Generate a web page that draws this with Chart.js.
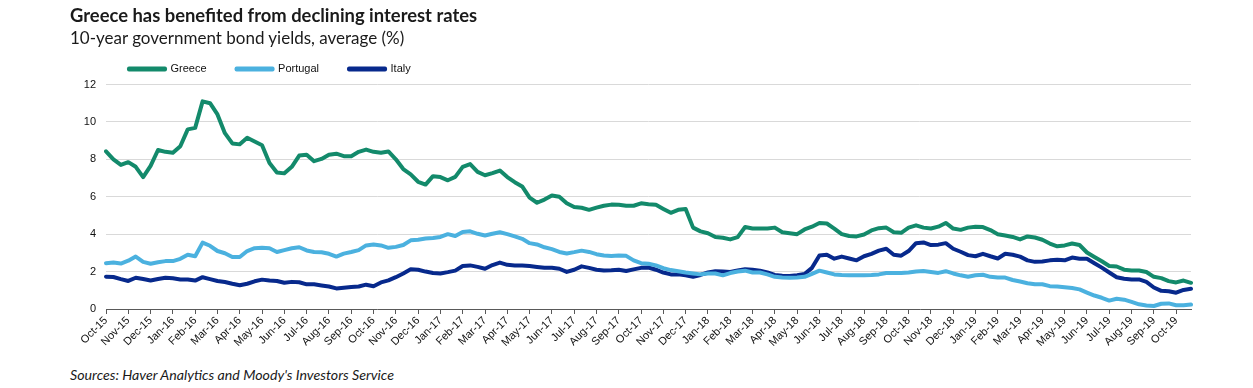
<!DOCTYPE html>
<html lang="en">
<head>
<meta charset="UTF-8">
<title>Greece has benefited from declining interest rates</title>
<style>
  body { margin: 0; background: #fff; }
  .wrap { position: relative; width: 1253px; height: 388px; overflow: hidden; }
  canvas { position: absolute; left: 0; top: 0; }
  .title { position: absolute; left: 70px; top: 4px; font: 700 18.4px Lato, sans-serif; color: #1a1a1a; white-space: nowrap; }
  .subtitle { position: absolute; left: 70px; top: 27px; font: 17px Lato, sans-serif; color: #1a1a1a; white-space: nowrap; }
  .source { position: absolute; left: 70px; top: 366px; font: italic 14.2px Lato, sans-serif; color: #1a1a1a; white-space: nowrap; }
</style>
</head>
<body>
<div class="wrap">
  <canvas id="yields" width="1253" height="359"></canvas>
  <div class="title">Greece has benefited from declining interest rates</div>
  <div class="subtitle">10-year government bond yields, average (%)</div>
  <div class="source">Sources: Haver Analytics and Moody's Investors Service</div>
</div>
<script src="https://cdn.jsdelivr.net/npm/chart.js"></script>
<script>
  const months = [
    'Oct-15', 'Nov-15', 'Dec-15', 'Jan-16', 'Feb-16', 'Mar-16', 'Apr-16', 'May-16', 'Jun-16', 'Jul-16',
    'Aug-16', 'Sep-16', 'Oct-16', 'Nov-16', 'Dec-16', 'Jan-17', 'Feb-17', 'Mar-17', 'Apr-17', 'May-17',
    'Jun-17', 'Jul-17', 'Aug-17', 'Sep-17', 'Oct-17', 'Nov-17', 'Dec-17', 'Jan-18', 'Feb-18', 'Mar-18',
    'Apr-18', 'May-18', 'Jun-18', 'Jul-18', 'Aug-18', 'Sep-18', 'Oct-18', 'Nov-18', 'Dec-18', 'Jan-19',
    'Feb-19', 'Mar-19', 'Apr-19', 'May-19', 'Jun-19', 'Jul-19', 'Aug-19', 'Sep-19', 'Oct-19'
  ];
  // three readings per month
  const perMonth = 3;

  const greece = [
    8.43, 8.0, 7.7, 7.85, 7.6, 7.05, 7.65, 8.5, 8.4, 8.35, 8.7, 9.6,
    9.68, 11.1, 11.0, 10.4, 9.4, 8.85, 8.8, 9.15, 8.95, 8.75, 7.8, 7.3,
    7.25, 7.6, 8.2, 8.25, 7.9, 8.02, 8.25, 8.3, 8.17, 8.17, 8.4, 8.52,
    8.4, 8.35, 8.42, 8.0, 7.48, 7.2, 6.8, 6.65, 7.1, 7.05, 6.88, 7.06,
    7.6, 7.75, 7.33, 7.15, 7.26, 7.4, 7.05, 6.78, 6.55, 5.95, 5.68, 5.85,
    6.07, 6.0, 5.65, 5.45, 5.41, 5.3, 5.42, 5.52, 5.58, 5.57, 5.52, 5.52,
    5.65, 5.6, 5.57, 5.35, 5.14, 5.3, 5.35, 4.35, 4.15, 4.05, 3.85, 3.81,
    3.72, 3.84, 4.38, 4.3, 4.3, 4.3, 4.35, 4.1, 4.05, 4.0, 4.25, 4.4,
    4.6, 4.57, 4.3, 4.0, 3.9, 3.88, 3.98, 4.2, 4.32, 4.35, 4.1, 4.07,
    4.35, 4.47, 4.35, 4.3, 4.4, 4.6, 4.3, 4.23, 4.35, 4.4, 4.38, 4.22,
    4.0, 3.93, 3.85, 3.72, 3.88, 3.82, 3.7, 3.5, 3.35, 3.4, 3.5, 3.42,
    3.02, 2.78, 2.55, 2.3, 2.27, 2.1, 2.06, 2.06, 1.98, 1.72, 1.65, 1.49,
    1.42, 1.52, 1.4
  ];
  const portugal = [
    2.45, 2.48, 2.43, 2.58, 2.8, 2.52, 2.42, 2.5, 2.56, 2.56, 2.68, 2.9,
    2.82, 3.55, 3.38, 3.1, 2.98, 2.78, 2.78, 3.1, 3.25, 3.27, 3.25, 3.05,
    3.15, 3.25, 3.3, 3.13, 3.05, 3.03, 2.95, 2.8, 2.96, 3.05, 3.15, 3.4,
    3.45, 3.4, 3.27, 3.32, 3.42, 3.67, 3.7, 3.77, 3.8, 3.85, 4.0, 3.9,
    4.12, 4.15, 4.02, 3.93, 4.02, 4.1, 4.0, 3.88, 3.75, 3.52, 3.45, 3.3,
    3.2, 3.05, 2.97, 3.04, 3.12, 3.05, 2.93, 2.86, 2.83, 2.86, 2.84, 2.6,
    2.45, 2.42, 2.33, 2.18, 2.08, 2.02, 1.95, 1.9, 1.85, 1.9, 1.9, 1.8,
    1.92, 2.0, 2.05, 1.95, 1.95, 1.85, 1.72, 1.68, 1.67, 1.68, 1.72, 1.88,
    2.05, 1.95, 1.85, 1.82, 1.8, 1.8, 1.8, 1.82, 1.85, 1.92, 1.92, 1.92,
    1.95, 2.0, 2.03, 1.98, 1.93, 2.02, 1.9, 1.8, 1.72, 1.8, 1.83, 1.72,
    1.68, 1.68, 1.55, 1.47, 1.38, 1.32, 1.32, 1.22, 1.2, 1.16, 1.12, 1.05,
    0.88, 0.72, 0.6, 0.45, 0.55, 0.5, 0.38, 0.25, 0.19, 0.16, 0.28, 0.3,
    0.2, 0.2, 0.24
  ];
  const italy = [
    1.73, 1.71, 1.6, 1.5, 1.67, 1.6, 1.52, 1.6, 1.67, 1.64, 1.58, 1.58,
    1.52, 1.7, 1.6, 1.5, 1.44, 1.35, 1.27, 1.35, 1.48, 1.57, 1.52, 1.5,
    1.4, 1.45, 1.43, 1.32, 1.32, 1.26, 1.2, 1.1, 1.14, 1.17, 1.2, 1.3,
    1.22, 1.42, 1.53, 1.7, 1.9, 2.12, 2.1, 2.0, 1.92, 1.9, 1.97, 2.05,
    2.3, 2.33, 2.25, 2.15, 2.35, 2.48, 2.36, 2.33, 2.32, 2.3, 2.25, 2.2,
    2.2, 2.15, 1.98, 2.1, 2.28, 2.2, 2.1, 2.06, 2.07, 2.1, 2.03, 2.12,
    2.2, 2.22, 2.1, 1.95, 1.85, 1.85, 1.8, 1.72, 1.82, 1.95, 2.02, 2.0,
    1.98, 2.06, 2.12, 2.1, 2.05, 1.95, 1.82, 1.78, 1.76, 1.8, 1.87, 2.2,
    2.86, 2.9, 2.69, 2.8, 2.7, 2.6, 2.82, 2.95, 3.12, 3.22, 2.9, 2.85,
    3.1, 3.52, 3.56, 3.42, 3.44, 3.52, 3.22, 3.06, 2.88, 2.82, 2.95, 2.82,
    2.7, 2.95, 2.9, 2.8, 2.6, 2.52, 2.54, 2.6, 2.63, 2.6, 2.75, 2.69,
    2.69, 2.45, 2.21, 1.95, 1.7, 1.62, 1.58, 1.58, 1.45, 1.15, 0.97, 0.95,
    0.87, 1.02, 1.08
  ];

  const labels = greece.map((v, i) => i % perMonth === 0 ? months[i / perMonth] : '');
  const axisFont = { family: "'Liberation Sans', Arial, sans-serif", size: 11 };

  function series(name, values, colour) {
    return {
      label: name,
      data: values,
      borderColor: colour,
      backgroundColor: colour,
      borderWidth: 4,
      borderJoinStyle: 'round',
      borderCapStyle: 'round',
      pointRadius: 0,
      tension: 0
    };
  }

  // legend sits a bit right of the y-axis labels
  const legendShift = {
    id: 'legendShift',
    afterLayout(chart) {
      chart.legend.left += 23;
      chart.legend.right += 23;
    }
  };

  new Chart(document.getElementById('yields'), {
    type: 'line',
    data: {
      labels: labels,
      datasets: [
        series('Greece', greece, '#138a6b'),
        series('Portugal', portugal, '#4bb1df'),
        series('Italy', italy, '#07298c')
      ]
    },
    plugins: [legendShift],
    options: {
      responsive: false,
      animation: false,
      devicePixelRatio: 1,
      layout: { padding: { left: 76, right: 62, top: 33.5, bottom: 0 } },
      plugins: {
        tooltip: { enabled: false },
        legend: {
          position: 'top',
          align: 'start',
          labels: {
            boxWidth: 36,
            boxHeight: 1,
            padding: 30,
            color: '#111',
            font: axisFont
          }
        }
      },
      scales: {
        x: {
          grid: {
            drawOnChartArea: false,
            drawTicks: true,
            tickLength: 5,
            tickWidth: 1,
            tickColor: c => c.index % perMonth === 0 ? '#595959' : 'rgba(0,0,0,0)'
          },
          border: { color: '#595959', width: 1 },
          ticks: {
            autoSkip: false,
            maxRotation: 45,
            minRotation: 45,
            padding: 0,
            color: '#111',
            font: axisFont
          },
          afterFit: s => { s.height = 50; }
        },
        y: {
          min: 0,
          max: 12,
          ticks: { stepSize: 2, padding: 10, color: '#111', font: axisFont },
          grid: { color: '#d9d9d9', drawTicks: false },
          border: { display: false },
          afterFit: s => { s.width = 30; }
        }
      }
    }
  });
</script>
</body>
</html>
